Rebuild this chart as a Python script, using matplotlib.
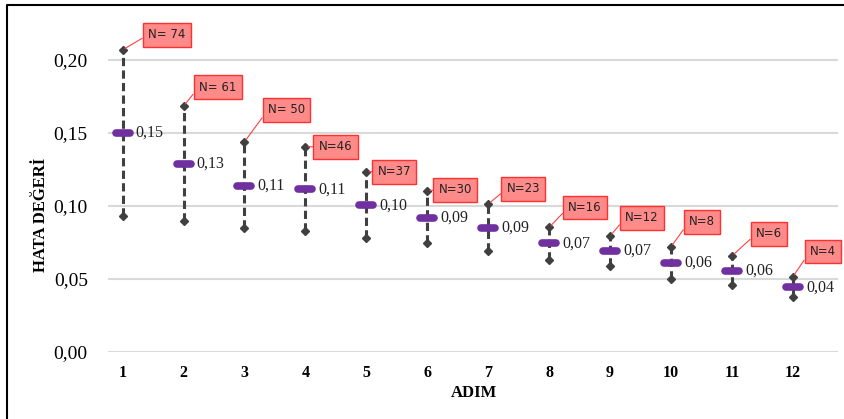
import matplotlib.pyplot as plt
from matplotlib.markers import MarkerStyle

# data
adim = [1, 2, 3, 4, 5, 6, 7, 8, 9, 10, 11, 12]
ust = [0.207, 0.1685, 0.144, 0.1406, 0.1235, 0.1105, 0.1014, 0.0854, 0.0795, 0.0721, 0.0658, 0.0516]
ort = [0.150, 0.1288, 0.1137, 0.1114, 0.1005, 0.0918, 0.0851, 0.0744, 0.0692, 0.0612, 0.0557, 0.0443]
alt = [0.093, 0.0897, 0.0847, 0.0831, 0.0779, 0.0744, 0.0694, 0.0630, 0.0591, 0.0500, 0.0459, 0.0375]
n_etiket = ["N= 74", "N= 61", "N= 50", "N=46", "N=37", "N=30", "N=23", "N=16", "N=12", "N=8", "N=6", "N=4"]
# label box offsets from the upper marker (pixels)
n_dx = [44, 34, 42, 30, 28, 28, 35, 36, 32, 31, 37, 30]
n_dy = [15, 19, 32, 0, 0, 1, 15, 20, 18, 25, 22, 25]

serif = 'Liberation Serif'
gri = '#404040'
mor = '#7030a0'

fig = plt.figure(figsize=(8.45, 4.19), dpi=100)
ax = fig.add_axes([108/845, 1-352/419, (838-108)/845, (352-9)/419])

ax.set_ylim(0, 0.235)
ax.set_xlim(0.76, 12.74)
ax.set_yticks([0, 0.05, 0.10, 0.15, 0.20])
ax.set_yticklabels(['0,00', '0,05', '0,10', '0,15', '0,20'], fontfamily=serif, fontsize=14)
ax.set_xticks(adim)
ax.set_xticklabels([str(a) for a in adim], fontfamily=serif, fontsize=11.5, fontweight='bold')
ax.tick_params(length=0)
ax.tick_params(axis='y', pad=14.5)
ax.tick_params(axis='x', pad=9)
ax.grid(axis='y', color='#d9d9d9', lw=1.5)
ax.set_axisbelow(True)
for s in ax.spines.values():
    s.set_visible(False)

ax.vlines(adim, alt, ust, colors=gri, lw=2.2, linestyles=(0, (2.7, 1.4)), zorder=2)
ax.plot(adim, ust, 'D', color=gri, ms=4.5, ls='none', zorder=3, clip_on=False)
ax.plot(adim, alt, 'D', color=gri, ms=4.5, ls='none', zorder=3, clip_on=False)
ax.plot(adim, ort, ls='none', marker=MarkerStyle('_', capstyle='round'),
        color=mor, ms=9.5, mew=5.5, zorder=4)

for x, m in zip(adim, ort):
    ax.annotate(f"{m:.2f}".replace('.', ','), (x, m), xytext=(13, 0), textcoords='offset pixels',
                ha='left', va='center', fontfamily=serif, fontsize=11.5, color='#222222')

for x, u, t, dx, dy in zip(adim, ust, n_etiket, n_dx, n_dy):
    ax.annotate(t, (x, u), xytext=(dx, dy), textcoords='offset pixels',
                ha='center', va='center', fontfamily='DejaVu Sans', fontsize=8.5, color='#222222',
                bbox=dict(boxstyle='square,pad=0.45', fc='#ff8a8a', ec='#ff3030', lw=1),
                arrowprops=dict(arrowstyle='-', color='#ff4040', lw=0.8, shrinkA=0, shrinkB=2,
                                relpos=(0, 0.5)),
                annotation_clip=False, zorder=5)

fig.text(41/845, 1-215/419, 'HATA DEĞERİ', rotation=90, ha='center', va='center',
         fontfamily=serif, fontsize=12, fontweight='bold')
fig.text(474/845, 1-393/419, 'ADIM', ha='center', va='center',
         fontfamily=serif, fontsize=12, fontweight='bold')

# chart border (left and top only are visible)
fig.add_artist(plt.Line2D([7/845, 7/845, 1], [0, 1-5/419, 1-5/419], color='black', lw=1.5,
                          transform=fig.transFigure))

fig.savefig('out.png', dpi=100)
